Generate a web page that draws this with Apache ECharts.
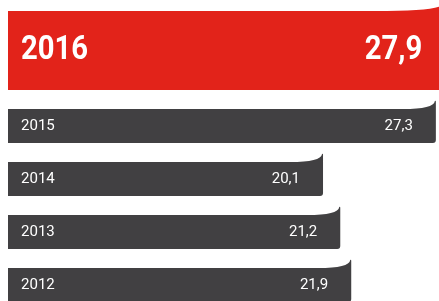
<!DOCTYPE html>
<html>
<head>
<meta charset="utf-8">
<script src="https://cdn.jsdelivr.net/npm/echarts@6/dist/echarts.min.js"></script>
<style>
  html, body { margin: 0; padding: 0; background: #fff; }
  #c_chart { width: 439px; height: 301px; }
</style>
</head>
<body>
<div id="c_chart"></div>
<script>
// data
var years = ['2016', '2015', '2014', '2013', '2012']
var values = [27.9, 27.3, 20.1, 21.2, 21.9]

var FONT = 'Roboto, "Noto Sans", sans-serif'
var RED = '#e2231a'
var GREY = '#414042'

function fmt (v) {
  return v.toFixed(1).replace('.', ',')
}

function renderItem (params, api) {
  var i = params.dataIndex
  var end = api.coord([api.value(0), api.value(1)])
  var start = api.coord([0, api.value(1)])
  var band = api.size([0, 1])[1]
  var first = i === 0
  var x0 = start[0]
  var R = end[0]
  var bottom = end[1] + band * 0.32
  var top = first ? end[1] - band * 1.17 : end[1] - band * 0.32
  var cw = first ? 70 : 33 // curl length
  var rise = 9
  var r = 3
  var path = 'M' + x0 + ',' + bottom +
    ' L' + x0 + ',' + top +
    ' L' + (R - cw) + ',' + top +
    ' Q' + (R - 2) + ',' + top + ' ' + (R - 1) + ',' + (top - rise + 1) +
    ' Q' + R + ',' + (top - rise) + ' ' + R + ',' + (top - rise + 2) +
    ' L' + R + ',' + (bottom - r) +
    ' Q' + R + ',' + bottom + ' ' + (R - r) + ',' + bottom + ' Z'
  var cy = (top + bottom) / 2 + 0.5
  var size = first ? 34 : 15.5
  var weight = first ? 'bold' : 'normal'
  var sx = first ? 0.86 : 0.97
  var lx = x0 + 13
  var rx = R - 23
  return {
    type: 'group',
    children: [{
      type: 'path',
      shape: { pathData: path },
      style: { fill: first ? RED : GREY }
    }, {
      type: 'text',
      x: lx,
      y: cy,
      scaleX: sx,
      style: {
        x: 0,
        y: 0,
        text: years[i],
        fill: '#fff',
        font: weight + ' ' + size + 'px ' + FONT,
        align: 'left',
        verticalAlign: 'middle'
      }
    }, {
      type: 'text',
      x: rx,
      y: cy,
      scaleX: sx,
      style: {
        x: 0,
        y: 0,
        text: fmt(values[i]),
        fill: '#fff',
        font: weight + ' ' + size + 'px ' + FONT,
        align: 'right',
        verticalAlign: 'middle'
      }
    }]
  }
}

var chart = echarts.init(document.getElementById('c_chart'))
var option = {
  animation: false,
  grid: {
    left: 8,
    right: 0,
    top: 46.5,
    height: 265,
    outerBoundsMode: 'none',
    containLabel: false
  },
  xAxis: {
    type: 'value',
    min: 0,
    max: 27.5,
    show: false
  },
  yAxis: {
    type: 'category',
    data: years,
    inverse: true,
    show: false
  },
  series: [{
    type: 'custom',
    renderItem: renderItem,
    clip: false,
    encode: { x: 0, y: 1 },
    data: values.map(function (v, i) { return [v, i] })
  }]
}
chart.setOption(option, true)
</script>
</body>
</html>
